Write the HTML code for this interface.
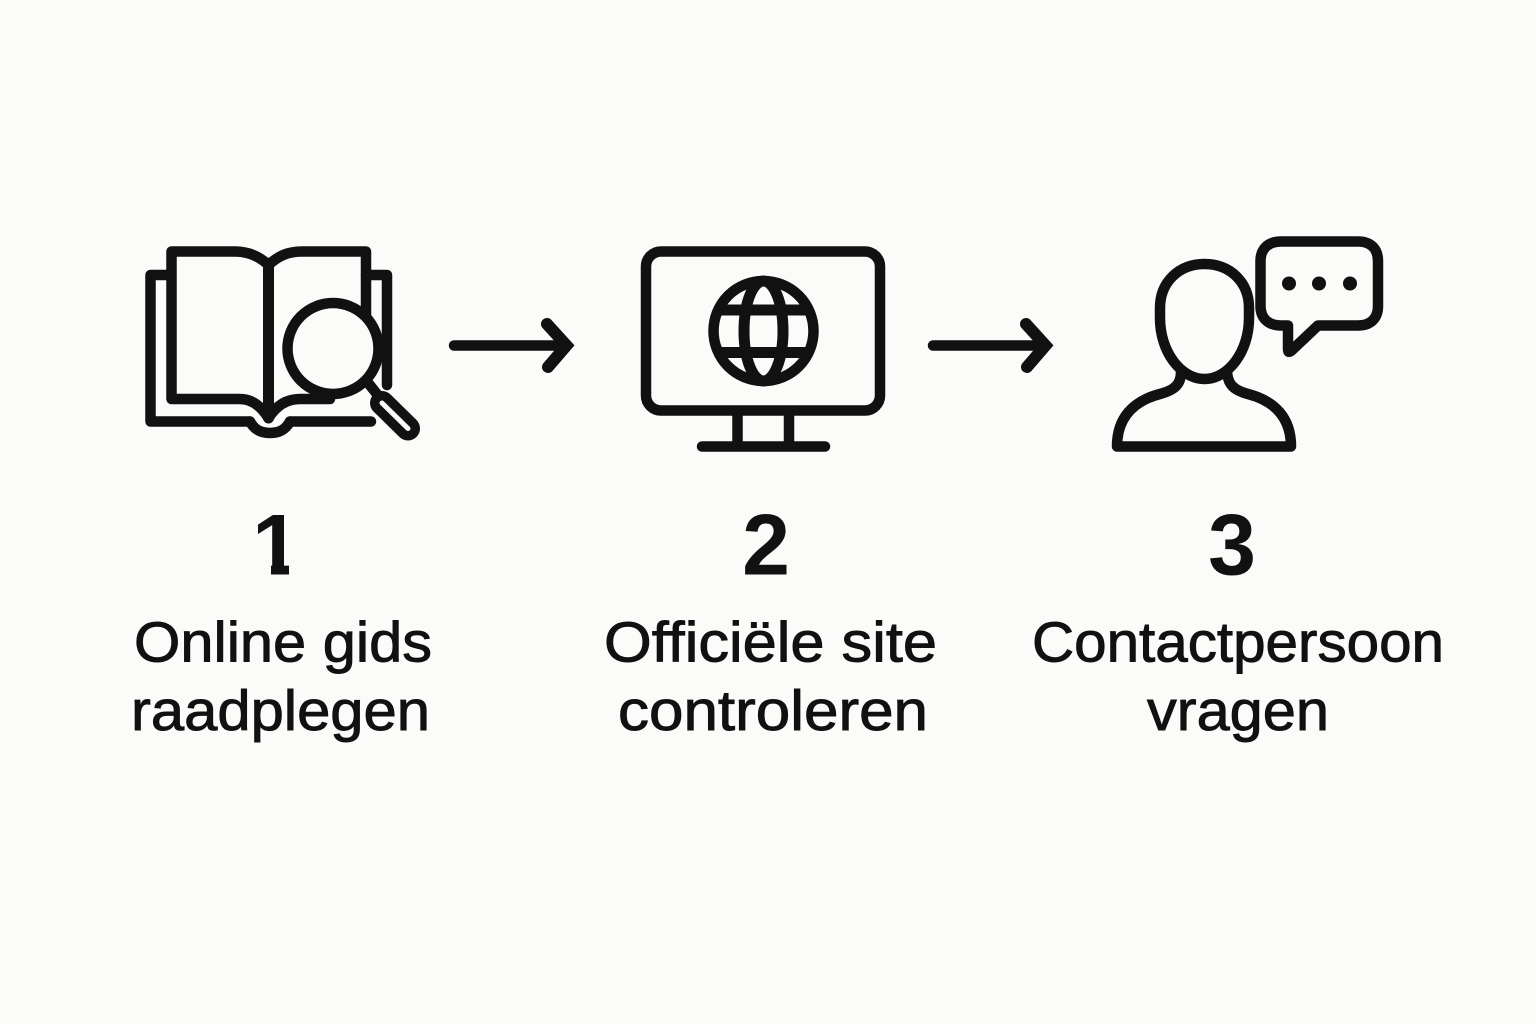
<!DOCTYPE html>
<html><head><meta charset="utf-8"><style>
html,body{margin:0;padding:0;background:#fbfbf9}
svg{display:block}
text{font-family:"Liberation Sans",sans-serif;fill:#111}
.n{font-size:86px;font-weight:700}
.l{font-size:57px;stroke:#111;stroke-width:.9px}
</style></head><body>
<svg width="1536" height="1024" viewBox="0 0 1536 1024" xmlns="http://www.w3.org/2000/svg">
<defs><clipPath id="one"><path d="M240 490H310V558H289V590H271V558H240Z"/></clipPath></defs>
<rect width="1536" height="1024" fill="#fbfbf9"/>
<g fill="none" stroke="#111" stroke-width="10.500" stroke-linecap="round" stroke-linejoin="round">
<!-- book -->
<path d="M171 275H150.500V421.500H250"/>
<path d="M290 421.500H371"/>
<path d="M366 275H387V385"/>
<path d="M250 421.500C254 429 260 433 270 433C280 433 286 429 290 421.500"/>
<path d="M268.500 265C259 256 248 251.500 235 251.500H171.500V399H240C252 399 261 406 268.500 418C276 406 286 399 300 399H330"/>
<path d="M268.500 265V418" stroke-width="11"/>
<path d="M268.500 265C278 256 288 251.500 302 251.500H366V318"/>
<circle cx="333" cy="348.500" r="45.500" fill="#fbfbf9"/>
<path d="M369 384L384 403"/>
<path d="M382 403L408 428.500" stroke-width="24"/>
<path d="M382 403L408 428.500" stroke="#fbfbf9" stroke-width="5"/>
<!-- arrow 1 -->
<path d="M454 345.500H563"/>
<path d="M547 324L566.500 345.500L548 367" stroke-width="12" stroke-linejoin="miter"/>
<!-- monitor -->
<rect x="646" y="251.500" width="234" height="159" rx="15"/>
<path d="M737.500 411V446M789 411V446"/>
<path d="M702 446.500H825"/>
<circle cx="763.500" cy="331" r="50"/>
<ellipse cx="763.500" cy="331" rx="19.500" ry="50" stroke-width="11"/>
<path d="M719 310H808M719 352.500H808" stroke-width="11"/>
<!-- arrow 2 -->
<path d="M933 345.500H1042"/>
<path d="M1026 324L1045.500 345.500L1027 367" stroke-width="12" stroke-linejoin="miter"/>
<!-- person -->
<path d="M1204.500 264C1230 264 1249 282 1249 308V318C1249 352 1228 379 1204.500 379C1181 379 1160 352 1160 318V308C1160 282 1179 264 1204.500 264Z"/>
<path d="M1181 372C1181 384 1175 390 1160 394C1133 401 1117 418 1117 446.500H1291C1291 418 1275 401 1248 394C1233 390 1228 384 1227 372"/>
<!-- bubble -->
<path d="M1281 241.500H1358C1371 241.500 1378 249 1378 261V306C1378 319 1370 325.500 1358 325.500H1318L1291 351C1288 353 1288 351 1288 348V325.500H1281C1268 325.500 1260.500 318 1260.500 306V261C1260.500 249 1268 241.500 1281 241.500Z"/>
</g>
<g fill="#111">
<circle cx="1289" cy="283.500" r="7"/><circle cx="1319" cy="283.500" r="7"/><circle cx="1350" cy="283.500" r="7"/>
</g>
<text class="n" x="276" y="574.500" text-anchor="middle" clip-path="url(#one)">1</text>
<text class="n" x="766" y="574.500" text-anchor="middle">2</text>
<text class="n" x="1232" y="574.500" text-anchor="middle">3</text>
<text class="l" x="134" y="661.500" textLength="298" lengthAdjust="spacingAndGlyphs">Online gids</text>
<text class="l" x="131" y="730" textLength="299" lengthAdjust="spacingAndGlyphs">raadplegen</text>
<text class="l" x="604" y="661.500" textLength="333" lengthAdjust="spacingAndGlyphs">Officiële site</text>
<text class="l" x="618" y="730" textLength="310" lengthAdjust="spacingAndGlyphs">controleren</text>
<text class="l" x="1032" y="661.500" textLength="412" lengthAdjust="spacingAndGlyphs">Contactpersoon</text>
<text class="l" x="1147" y="730" textLength="182" lengthAdjust="spacingAndGlyphs">vragen</text>
</svg>
</body></html>
